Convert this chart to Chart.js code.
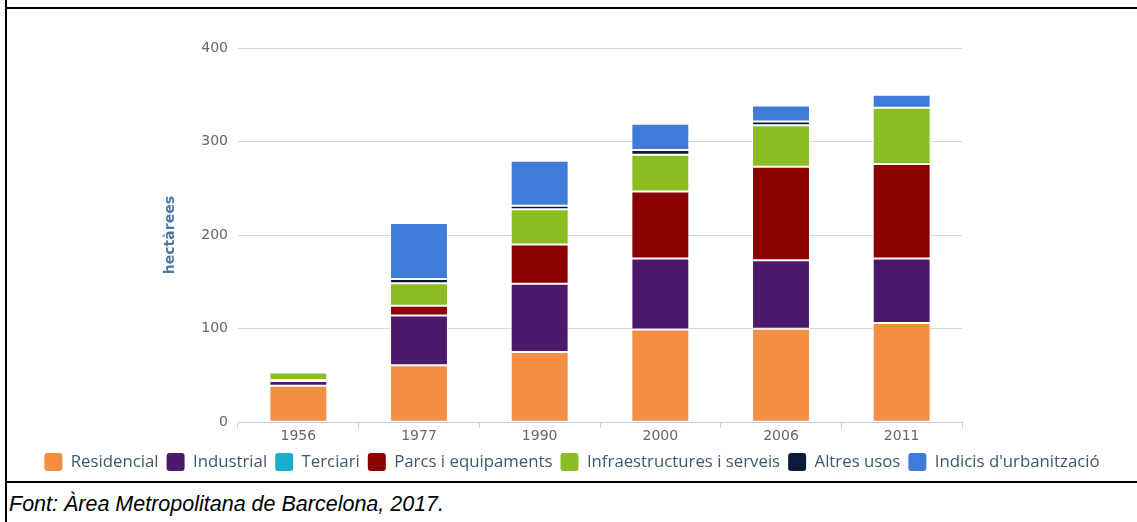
<!DOCTYPE html>
<html>
<head>
<meta charset="utf-8">
<script src="https://cdn.jsdelivr.net/npm/chart.js@4/dist/chart.umd.min.js"></script>
<style>
  html, body { margin: 0; padding: 0; background: #fff; }
  body { width: 1137px; height: 522px; position: relative; overflow: hidden; }
  .vline { position: absolute; left: 5px; top: 0; width: 2px; height: 522px; background: #000; }
  .hline { position: absolute; left: 5px; width: 1132px; height: 2px; background: #000; }
  #wrap { position: absolute; left: 7px; top: 9px; width: 1130px; height: 472px; }
  .font { position: absolute; left: 9px; top: 492px; font: italic 21.5px "Liberation Sans", Arial, sans-serif; color: #000; line-height: 25px; }
</style>
</head>
<body>
<div class="vline"></div>
<div class="hline" style="top:7px"></div>
<div class="hline" style="top:481px"></div>
<div id="wrap"><canvas id="c" width="1130" height="472"></canvas></div>
<div class="font">Font: Àrea Metropolitana de Barcelona, 2017.</div>
<script>
// anys
const years = ['1956', '1977', '1990', '2000', '2006', '2011'];

// hectàrees per ús
const residencial = [39, 61, 75, 99, 100, 106];
const industrial = [5, 53, 73, 76, 73, 69];
const terciari = [0, 0, 0, 0, 0, 0];
const parcs = [1, 10.5, 42, 71.5, 100, 101];
const infraestructures = [8, 24, 37.5, 39.5, 44.5, 60];
const altres = [0, 4.5, 4, 5, 4, 0];
const indicis = [0, 60, 48, 28, 17, 14];

const yTicks = [0, 100, 200, 300, 400];

function serie(label, data, color) {
  return {
    label: label,
    data: data,
    backgroundColor: color,
    borderColor: '#ffffff',
    borderWidth: 1,
    borderSkipped: false,
    barPercentage: 0.48,
    categoryPercentage: 1
  };
}

const ctx = document.getElementById('c').getContext('2d');
new Chart(ctx, {
  type: 'bar',
  data: {
    labels: years,
    datasets: [
      serie('Residencial', residencial, '#f28f43'),
      serie('Industrial', industrial, '#4d1a6b'),
      serie('Terciari', terciari, '#1aadce'),
      serie('Parcs i equipaments', parcs, '#8b0000'),
      serie('Infraestructures i serveis', infraestructures, '#8bbc21'),
      serie('Altres usos', altres, '#0d1a3a'),
      serie("Indicis d'urbanització", indicis, '#3f7bd7')
    ]
  },
  options: {
    responsive: false,
    animation: false,
    maintainAspectRatio: false,
    layout: { padding: { left: 0, right: 0, top: 39, bottom: 0 } },
    plugins: {
      tooltip: { enabled: false },
      legend: {
        position: 'bottom',
        labels: {
          font: { family: 'Open Sans', size: 16.8 },
          color: '#3e576f',
          boxWidth: 18,
          boxHeight: 18,
          useBorderRadius: true,
          borderRadius: 3,
          padding: 8,
          generateLabels: function(chart) {
            return chart.data.datasets.map(function(ds, i) {
              return {
                text: ds.label,
                fillStyle: ds.backgroundColor,
                strokeStyle: ds.backgroundColor,
                lineWidth: 0,
                fontColor: '#3e576f',
                borderRadius: 3,
                datasetIndex: i
              };
            });
          }
        }
      }
    },
    scales: {
      x: {
        stacked: true,
        grid: { display: true, offset: true, drawOnChartArea: false, color: '#c0d0e0', tickLength: 6 },
        border: { color: '#c0d0e0' },
        ticks: { color: '#666', font: { family: 'DejaVu Sans', size: 14 }, padding: 0 }
      },
      y: {
        stacked: true,
        min: 0,
        max: 400,
        afterBuildTicks: function(scale) {
          scale.ticks = yTicks.map(function(v) { return { value: v }; });
        },
        afterFit: function(scale) { scale.width = 231; },
        grid: { color: '#d8d8d8', drawTicks: false },
        border: { display: false },
        ticks: { color: '#666', font: { family: 'DejaVu Sans', size: 14 }, padding: 10 },
        title: {
          display: true,
          text: 'hectàrees',
          color: '#4d759e',
          font: { family: 'DejaVu Sans', size: 14, weight: 'bold' },
          padding: { top: 155, bottom: 0 }
        }
      },
      y2: {
        position: 'right',
        min: 0,
        max: 400,
        afterFit: function(scale) { scale.width = 175; },
        grid: { drawOnChartArea: false, drawTicks: false },
        border: { display: false },
        ticks: { display: false }
      }
    }
  }
});
</script>
</body>
</html>
